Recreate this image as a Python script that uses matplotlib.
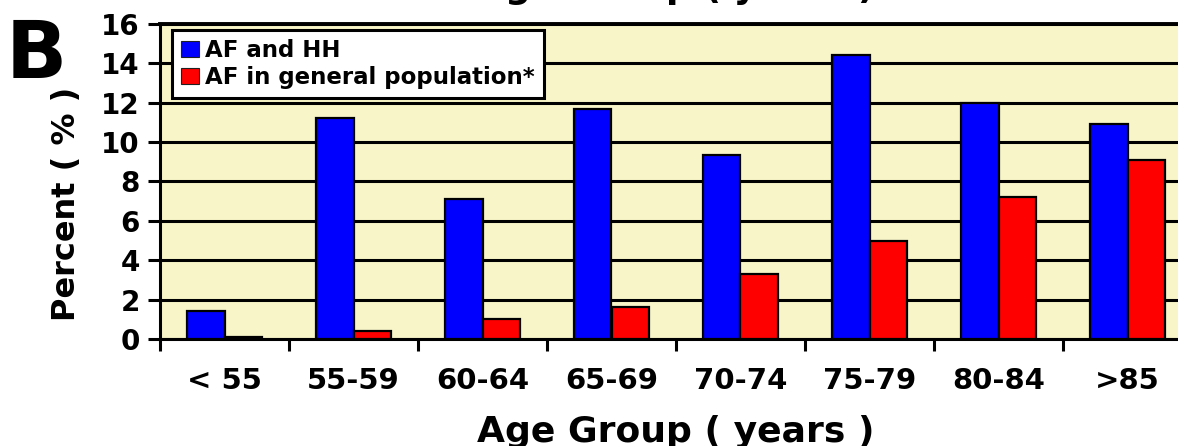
import numpy as np
import matplotlib
matplotlib.use("Agg")
import matplotlib.pyplot as plt
from matplotlib.patches import Patch

# Age groups and prevalence of atrial fibrillation (%)
age_groups = ["< 55", "55-59", "60-64", "65-69", "70-74", "75-79", "80-84", ">85"]
af_and_hh = [1.4, 11.2, 7.1, 11.7, 9.35, 14.4, 12.0, 10.9]
af_general = [0.1, 0.4, 1.0, 1.65, 3.3, 5.0, 7.2, 9.1]
series_labels = ["AF and HH", "AF in general population*"]
y_ticks = [0, 2, 4, 6, 8, 10, 12, 14, 16]

plt.rcParams["font.family"] = ["DejaVu Sans"]
plt.rcParams["font.weight"] = "bold"

W, H = 1178, 446
fig = plt.figure(figsize=(W / 100, H / 100), dpi=100)
fig.patch.set_facecolor("white")

# plot area runs past the right edge of the panel
ax = fig.add_axes([160 / W, (H - 339) / H, 1032 / W, 315 / H])
ax.set_facecolor("#F8F5C8")

x = np.arange(len(age_groups))
w = 0.29
ax.bar(x - w / 2, af_and_hh, w, color="#0000FF", edgecolor="black",
       linewidth=1.6, zorder=3)
ax.bar(x + w / 2, af_general, w, color="#FF0000", edgecolor="black",
       linewidth=1.6, zorder=3)

ax.set_xlim(-0.5, len(age_groups) - 0.5)
ax.set_ylim(0, 16)
ax.set_yticks(y_ticks)
ax.set_yticklabels([str(t) for t in y_ticks], fontsize=20, fontweight="bold")
ax.yaxis.grid(True, color="black", linewidth=2.2)
ax.set_axisbelow(True)

ax.set_xticks(x)
ax.set_xticklabels(age_groups, fontsize=21, fontweight="bold")
ax.set_xticks(np.arange(-0.5, len(age_groups), 1), minor=True)
ax.tick_params(axis="x", which="major", length=0, pad=20)
ax.tick_params(axis="x", which="minor", length=8.6, width=2.2, direction="out")
ax.tick_params(axis="y", length=8.6, width=2.2, direction="out", pad=6)

for side in ("left", "bottom"):
    ax.spines[side].set_linewidth(2.2)
ax.spines["top"].set_linewidth(2.8)
ax.spines["right"].set_visible(False)

handles = [Patch(facecolor="#0000FF", edgecolor="#202020", linewidth=0.8),
           Patch(facecolor="#FF0000", edgecolor="#202020", linewidth=0.8)]
leg = ax.legend(handles, series_labels, loc="upper left",
                bbox_to_anchor=(172 / W, 1 - 30 / H),
                bbox_transform=fig.transFigure,
                prop={"size": 16.5, "weight": "bold"},
                handlelength=0.78, handleheight=0.7, handletextpad=0.28,
                labelspacing=0.18, borderpad=0.4, borderaxespad=0,
                fancybox=False, framealpha=1, edgecolor="black")
leg.get_frame().set_linewidth(2.2)
leg.set_zorder(5)

# axis titles and panel letter
cx = (160 + 1032 / 2) / W
fig.text(cx, 4 / H, "Age Group ( years )", ha="center", va="baseline",
         fontsize=26, fontweight="bold")
fig.text(cx, 1 + 2 / H, "Age Group ( years )", ha="center", va="baseline",
         fontsize=26, fontweight="bold")
fig.text(67 / W, 1 - 204 / H, "Percent ( % )", rotation=90, ha="center",
         va="center", fontsize=23, fontweight="bold")
fig.text(6 / W, 1 - 78 / H, "B", ha="left", va="baseline",
         fontsize=58, fontweight="bold")

fig.savefig("out.png", dpi=100, facecolor="white")
